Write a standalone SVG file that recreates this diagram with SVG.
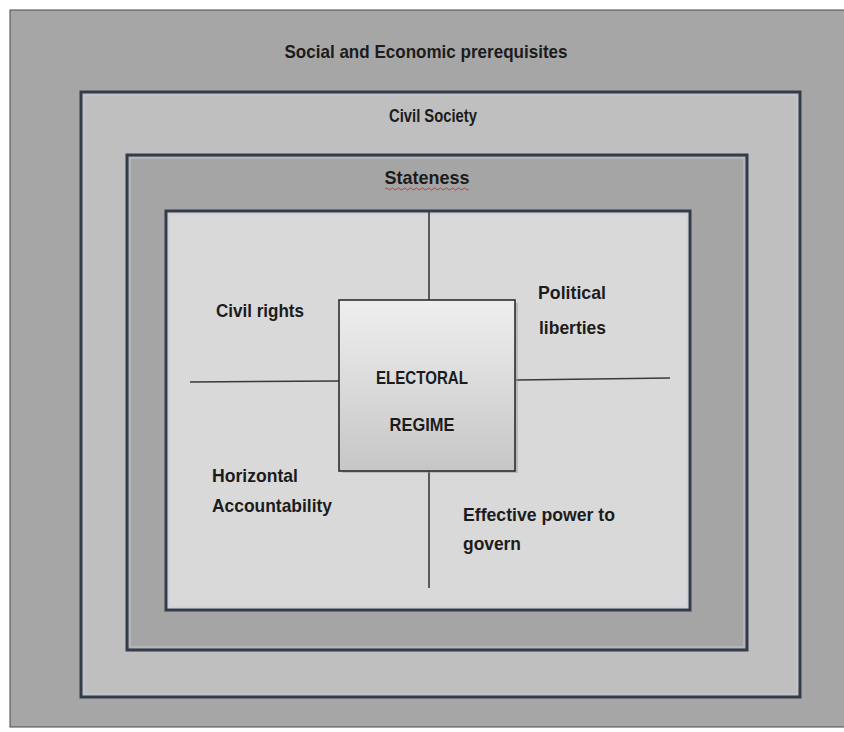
<svg xmlns="http://www.w3.org/2000/svg" width="844" height="732" viewBox="0 0 844 732">
<defs>
<linearGradient id="cg" x1="0" y1="0" x2="0" y2="1">
<stop offset="0" stop-color="#efefef"/>
<stop offset="1" stop-color="#c6c6c6"/>
</linearGradient>
</defs>
<style>
.frame{stroke:#343c4c;stroke-width:3}
.glow{fill:none;stroke:#c4cad4;stroke-width:1.5;opacity:0.6}
.t{font-family:"Liberation Sans",Arial,sans-serif;font-weight:bold;font-size:18.5px;fill:#1c1c1c}
.ln{stroke:#3a3a3a;stroke-width:1.6;fill:none}
</style>
<rect x="0" y="0" width="844" height="732" fill="#ffffff"/>
<g id="social">
<rect x="10" y="10" width="840" height="717" fill="#a6a6a6" stroke="#4a4a4a" stroke-width="1"/>
<text class="t" x="426" y="58" text-anchor="middle" textLength="283" lengthAdjust="spacingAndGlyphs">Social and Economic prerequisites</text>
</g>
<g id="civil-society">
<rect class="frame" x="81" y="92" width="719" height="605" fill="#bfbfbf"/>
<rect class="glow" x="84" y="95" width="713" height="599"/>
<text class="t" x="433" y="122" text-anchor="middle" textLength="88" lengthAdjust="spacingAndGlyphs">Civil Society</text>
</g>
<g id="stateness">
<rect class="frame" x="127" y="155" width="620" height="495" fill="#a5a5a5"/>
<rect class="glow" x="130" y="158" width="614" height="489"/>
<text class="t" x="427" y="184" text-anchor="middle" textLength="85" lengthAdjust="spacingAndGlyphs">Stateness</text>
<path d="M385 189 q1.5 -2 3 0 t3 0 t3 0 t3 0 t3 0 t3 0 t3 0 t3 0 t3 0 t3 0 t3 0 t3 0 t3 0 t3 0 t3 0 t3 0 t3 0 t3 0 t3 0 t3 0 t3 0 t3 0 t3 0 t3 0 t3 0 t3 0 t3 0 t3 0" fill="none" stroke="#d03030" stroke-width="0.9"/>
</g>
<g id="inner">
<rect class="frame" x="166" y="211" width="524" height="399" fill="#d9d9d9"/>
<rect class="glow" x="169" y="214" width="518" height="393"/>
</g>
<g id="connectors">
<line class="ln" x1="429" y1="212" x2="429" y2="300"/>
<line class="ln" x1="429" y1="471" x2="429" y2="588"/>
<line class="ln" x1="190" y1="382" x2="340" y2="381"/>
<line class="ln" x1="516" y1="380" x2="670" y2="378"/>
</g>
<g id="civil-rights">
<text class="t" x="216" y="317" textLength="88" lengthAdjust="spacingAndGlyphs">Civil rights</text>
</g>
<g id="political-liberties">
<text class="t" x="538" y="299" textLength="68" lengthAdjust="spacingAndGlyphs">Political</text>
<text class="t" x="539" y="334" textLength="67" lengthAdjust="spacingAndGlyphs">liberties</text>
</g>
<g id="electoral-regime">
<rect x="342" y="303" width="176" height="170" fill="#9a9a9a" opacity="0.5"/>
<rect x="339" y="300" width="176" height="171" fill="url(#cg)" stroke="#2e2e2e" stroke-width="1.6"/>
<text class="t" x="422" y="384" text-anchor="middle" textLength="92" lengthAdjust="spacingAndGlyphs">ELECTORAL</text>
<text class="t" x="422" y="431" text-anchor="middle" textLength="65" lengthAdjust="spacingAndGlyphs">REGIME</text>
</g>
<g id="horizontal-accountability">
<text class="t" x="212" y="482" textLength="86" lengthAdjust="spacingAndGlyphs">Horizontal</text>
<text class="t" x="212" y="512" textLength="120" lengthAdjust="spacingAndGlyphs">Accountability</text>
</g>
<g id="effective-power">
<text class="t" x="463" y="521" textLength="152" lengthAdjust="spacingAndGlyphs">Effective power to</text>
<text class="t" x="463" y="550" textLength="58" lengthAdjust="spacingAndGlyphs">govern</text>
</g>
</svg>
